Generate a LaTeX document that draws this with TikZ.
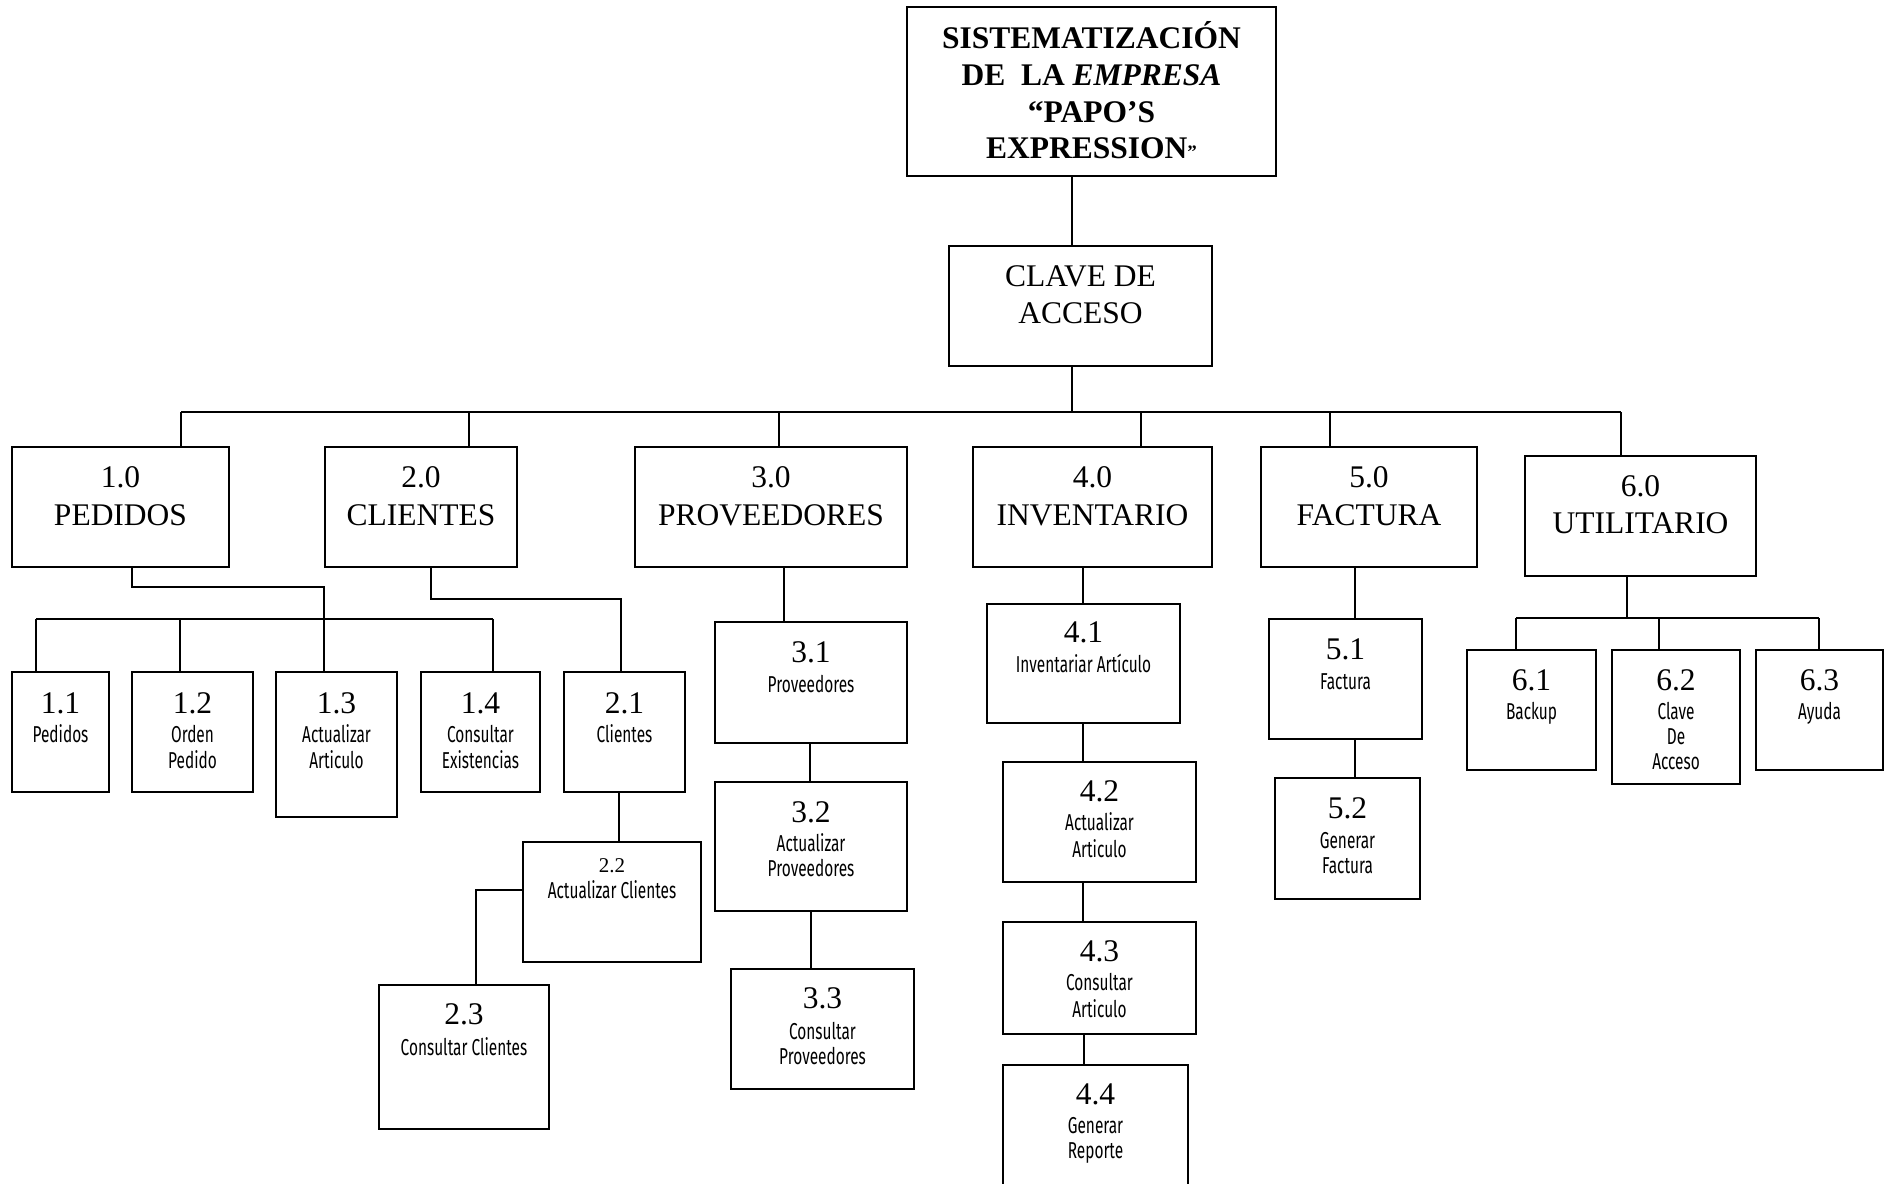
\documentclass[tikz,border=0pt]{standalone}
\usepackage{fontspec}
\setmainfont{Liberation Serif}
\newfontfamily\agency[FakeStretch=0.67]{Fira Sans}
\usetikzlibrary{calc}

% box from (x1,y1) to (x2,y2), pixel units, y growing downwards
\newcommand\mkbox[5]{%
  \pgfmathsetmacro\bw{#4-#2}\pgfmathsetmacro\bh{#5-#3}%
  \node[box, minimum width=\bw pt, minimum height=\bh pt] (#1) at (#2,#3) {};}
% text line: name, style, box, baseline offset below the box top, text
\newcommand\tx[5]{\node[#2] (#1) at ($(#3.north)+(0,#4)$) {#5};}

\begin{document}
\begin{tikzpicture}[x=1pt,y=-1pt,
  box/.style={draw, line width=1.8pt, rectangle, inner sep=0pt, outer sep=0pt, anchor=north west},
  wire/.style={line width=1.6pt},
  big/.style={inner sep=0pt, anchor=base, font=\fontsize{31.5}{37}\selectfont},
  bigb/.style={inner sep=0pt, anchor=base, font=\fontsize{31.5}{37}\selectfont\bfseries},
  mid/.style={inner sep=0pt, anchor=base, font=\fontsize{21}{25}\selectfont},
  small/.style={inner sep=0pt, anchor=base, font=\agency\fontsize{23}{25}\selectfont}]

\fill[white] (0,0) rectangle (1884,1183);
\useasboundingbox (0,0) rectangle (1884,1183);

% ---- top
\mkbox{title}{907}{7}{1276}{176}
\tx{tl1}{bigb}{title}{41}{SISTEMATIZACIÓN}
\tx{tl2}{bigb}{title}{78}{DE\ \ LA \textit{EMPRESA}}
\tx{tl3}{bigb}{title}{115}{“PAPO’S}
\tx{tl4}{bigb}{title}{151}{EXPRESSION{\fontsize{19}{19}\selectfont ”}}

\mkbox{clave}{949}{246}{1212}{366}
\tx{cl1}{big}{clave}{40}{CLAVE DE}
\tx{cl2}{big}{clave}{77}{ACCESO}

% ---- first level
\mkbox{n1}{12}{447}{229}{567}
\tx{n1a}{big}{n1}{40}{1.0}
\tx{n1b}{big}{n1}{78}{PEDIDOS}
\mkbox{n2}{325}{447}{517}{567}
\tx{n2a}{big}{n2}{40}{2.0}
\tx{n2b}{big}{n2}{78}{CLIENTES}
\mkbox{n3}{635}{447}{907}{567}
\tx{n3a}{big}{n3}{40}{3.0}
\tx{n3b}{big}{n3}{78}{PROVEEDORES}
\mkbox{n4}{973}{447}{1212}{567}
\tx{n4a}{big}{n4}{40}{4.0}
\tx{n4b}{big}{n4}{78}{INVENTARIO}
\mkbox{n5}{1261}{447}{1477}{567}
\tx{n5a}{big}{n5}{40}{5.0}
\tx{n5b}{big}{n5}{78}{FACTURA}
\mkbox{n6}{1525}{456}{1756}{576}
\tx{n6a}{big}{n6}{40}{6.0}
\tx{n6b}{big}{n6}{77}{UTILITARIO}

% ---- pedidos
\mkbox{n11}{12}{672}{109}{792}
\tx{n11a}{big}{n11}{41}{1.1}
\tx{n11b}{small}{n11}{70}{Pedidos}
\mkbox{n12}{132}{672}{253}{792}
\tx{n12a}{big}{n12}{41}{1.2}
\tx{n12b}{small}{n12}{70}{Orden}
\tx{n12c}{small}{n12}{96}{Pedido}
\mkbox{n13}{276}{672}{397}{817}
\tx{n13a}{big}{n13}{41}{1.3}
\tx{n13b}{small}{n13}{70}{Actualizar}
\tx{n13c}{small}{n13}{96}{Articulo}
\mkbox{n14}{421}{672}{540}{792}
\tx{n14a}{big}{n14}{41}{1.4}
\tx{n14b}{small}{n14}{70}{Consultar}
\tx{n14c}{small}{n14}{96}{Existencias}

% ---- clientes
\mkbox{n21}{564}{672}{685}{792}
\tx{n21a}{big}{n21}{41}{2.1}
\tx{n21b}{small}{n21}{70}{Clientes}
\mkbox{n22}{523}{842}{701}{962}
\tx{n22a}{mid}{n22}{30}{2.2}
\tx{n22b}{small}{n22}{56}{Actualizar Clientes}
\mkbox{n23}{379}{985}{549}{1129}
\tx{n23a}{big}{n23}{39}{2.3}
\tx{n23b}{small}{n23}{70}{Consultar Clientes}

% ---- proveedores
\mkbox{n31}{715}{622}{907}{743}
\tx{n31a}{big}{n31}{40}{3.1}
\tx{n31b}{small}{n31}{70}{Proveedores}
\mkbox{n32}{715}{782}{907}{911}
\tx{n32a}{big}{n32}{40}{3.2}
\tx{n32b}{small}{n32}{69}{Actualizar}
\tx{n32c}{small}{n32}{94}{Proveedores}
\mkbox{n33}{731}{969}{914}{1089}
\tx{n33a}{big}{n33}{39}{3.3}
\tx{n33b}{small}{n33}{70}{Consultar}
\tx{n33c}{small}{n33}{95}{Proveedores}

% ---- inventario
\mkbox{n41}{987}{604}{1180}{723}
\tx{n41a}{big}{n41}{38}{4.1}
\tx{n41b}{small}{n41}{68}{Inventariar Artículo}
\mkbox{n42}{1003}{762}{1196}{882}
\tx{n42a}{big}{n42}{39}{4.2}
\tx{n42b}{small}{n42}{68}{Actualizar}
\tx{n42c}{small}{n42}{95}{Articulo}
\mkbox{n43}{1003}{922}{1196}{1034}
\tx{n43a}{big}{n43}{39}{4.3}
\tx{n43b}{small}{n43}{68}{Consultar}
\tx{n43c}{small}{n43}{95}{Articulo}
\mkbox{n44}{1003}{1065}{1188}{1192}
\tx{n44a}{big}{n44}{39}{4.4}
\tx{n44b}{small}{n44}{68}{Generar}
\tx{n44c}{small}{n44}{93}{Reporte}

% ---- factura
\mkbox{n51}{1269}{619}{1422}{739}
\tx{n51a}{big}{n51}{40}{5.1}
\tx{n51b}{small}{n51}{70}{Factura}
\mkbox{n52}{1275}{778}{1420}{899}
\tx{n52a}{big}{n52}{40}{5.2}
\tx{n52b}{small}{n52}{70}{Generar}
\tx{n52c}{small}{n52}{95}{Factura}

% ---- utilitario
\mkbox{n61}{1467}{650}{1596}{770}
\tx{n61a}{big}{n61}{40}{6.1}
\tx{n61b}{small}{n61}{69}{Backup}
\mkbox{n62}{1612}{650}{1740}{784}
\tx{n62a}{big}{n62}{40}{6.2}
\tx{n62b}{small}{n62}{69}{Clave}
\tx{n62c}{small}{n62}{94}{De}
\tx{n62d}{small}{n62}{119}{Acceso}
\mkbox{n63}{1756}{650}{1883}{770}
\tx{n63a}{big}{n63}{40}{6.3}
\tx{n63b}{small}{n63}{69}{Ayuda}

% ---- connectors
\coordinate (xTop) at (1072,0);
\draw[wire] (title.south -| xTop) -- (clave.north -| xTop);

\coordinate (busC) at (1072,412);
\coordinate (d1) at (181,412);
\coordinate (d2) at (469,412);
\coordinate (d3) at (779,412);
\coordinate (d4) at (1141,412);
\coordinate (d5) at (1330,412);
\coordinate (d6) at (1621,412);
\draw[wire] (clave.south -| busC) -- (busC);
\draw[wire] (d1) -- (d6);
\foreach \i in {1,...,6} {\draw[wire] (d\i) -- (d\i |- n\i.north);}

% pedidos branch
\coordinate (p1) at (132,587);
\coordinate (p2) at (324,587);
\draw[wire] (n1.south -| p1) -- (p1) -- (p2) -- (p2 |- n13.north);
\coordinate (s1) at (36,619);
\coordinate (s2) at (180,619);
\coordinate (s4) at (493,619);
\draw[wire] (s1) -- (s4);
\draw[wire] (s1) -- (s1 |- n11.north);
\draw[wire] (s2) -- (s2 |- n12.north);
\draw[wire] (s4) -- (s4 |- n14.north);

% clientes branch
\coordinate (c1) at (431,599);
\coordinate (c2) at (621,599);
\draw[wire] (n2.south -| c1) -- (c1) -- (c2) -- (c2 |- n21.north);
\coordinate (c3) at (619,0);
\draw[wire] (n21.south -| c3) -- (n22.north -| c3);
\coordinate (c4) at (476,890);
\draw[wire] (n22.west |- c4) -- (c4) -- (c4 |- n23.north);

% proveedores branch
\coordinate (q1) at (784,0);
\coordinate (q2) at (810,0);
\coordinate (q3) at (811,0);
\draw[wire] (n3.south -| q1) -- (n31.north -| q1);
\draw[wire] (n31.south -| q2) -- (n32.north -| q2);
\draw[wire] (n32.south -| q3) -- (n33.north -| q3);

% inventario branch
\coordinate (v1) at (1083,0);
\coordinate (v2) at (1084,0);
\draw[wire] (n4.south -| v1) -- (n41.north -| v1);
\draw[wire] (n41.south -| v1) -- (n42.north -| v1);
\draw[wire] (n42.south -| v1) -- (n43.north -| v1);
\draw[wire] (n43.south -| v2) -- (n44.north -| v2);

% factura branch
\coordinate (f1) at (1355,0);
\draw[wire] (n5.south -| f1) -- (n51.north -| f1);
\draw[wire] (n51.south -| f1) -- (n52.north -| f1);

% utilitario branch
\coordinate (u0) at (1627,618);
\coordinate (u1) at (1516,618);
\coordinate (u2) at (1659,618);
\coordinate (u3) at (1819,618);
\draw[wire] (n6.south -| u0) -- (u0);
\draw[wire] (u1) -- (u3);
\draw[wire] (u1) -- (u1 |- n61.north);
\draw[wire] (u2) -- (u2 |- n62.north);
\draw[wire] (u3) -- (u3 |- n63.north);

\end{tikzpicture}
\end{document}
